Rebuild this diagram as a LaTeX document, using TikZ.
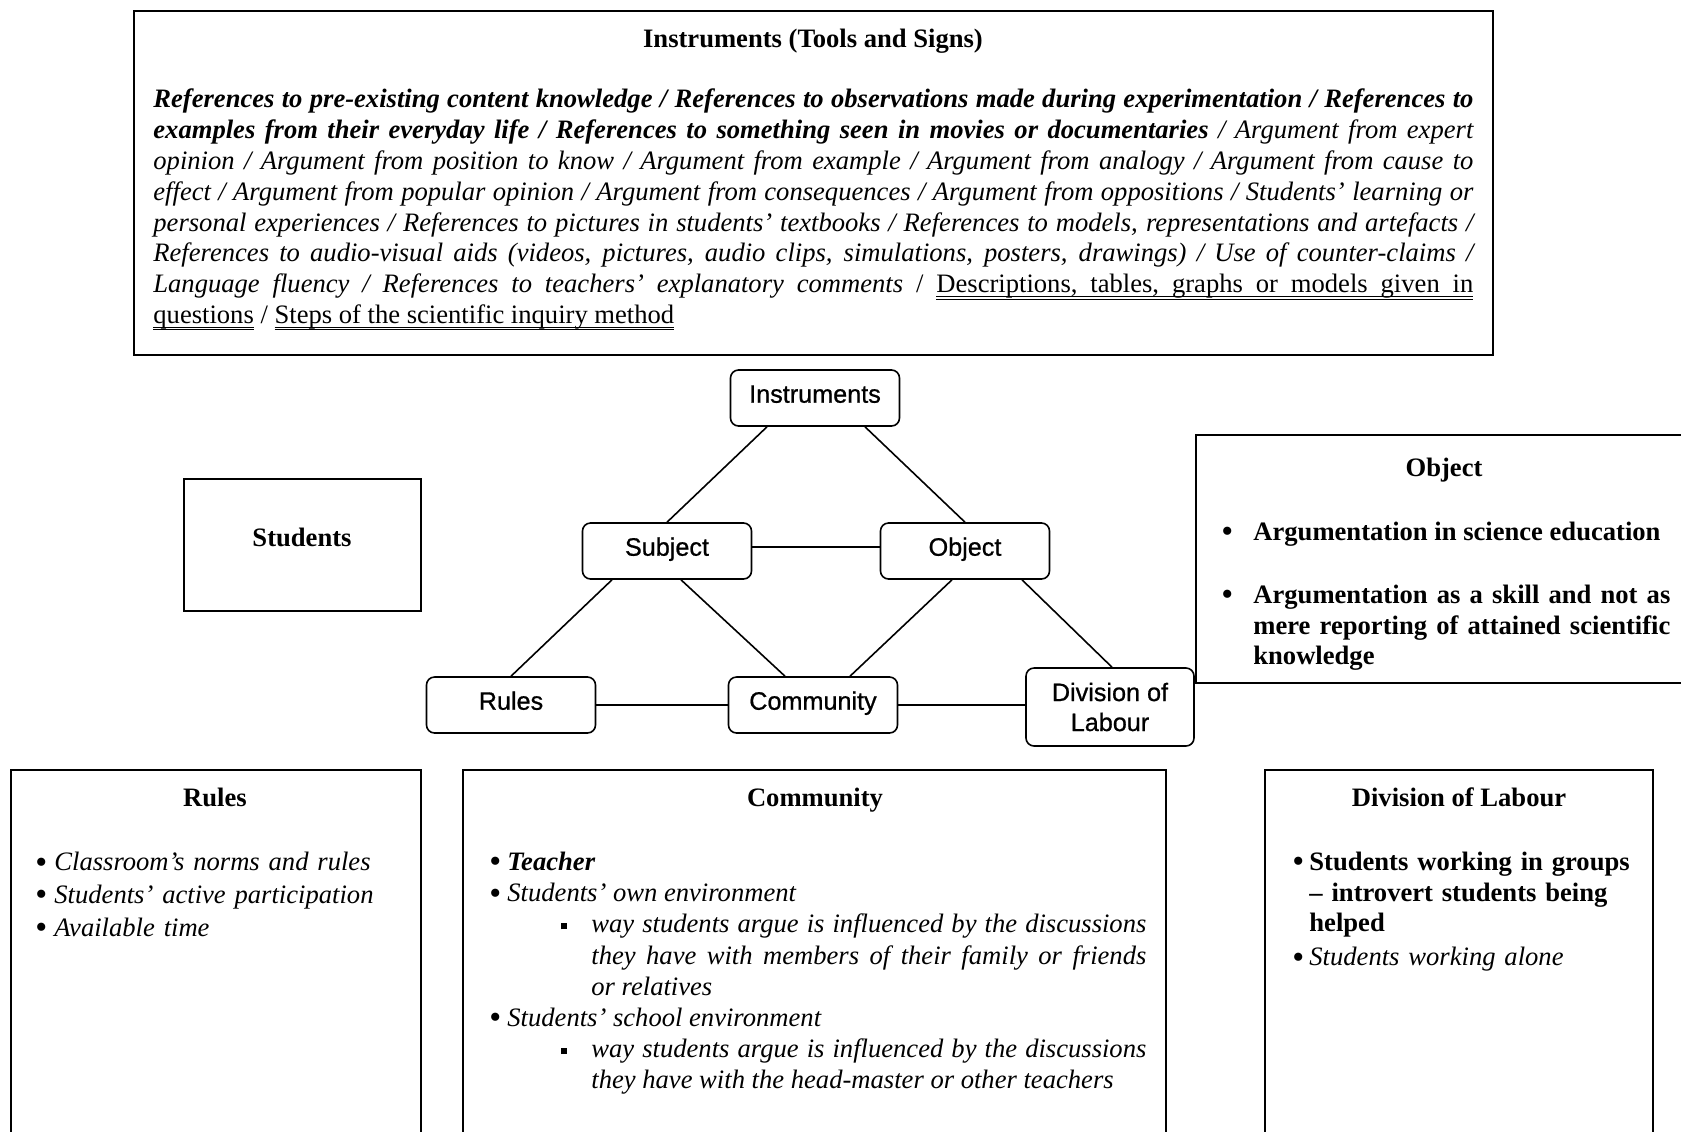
\documentclass[tikz,border=0pt]{standalone}
\usepackage{fontspec}
\setmainfont{Liberation Serif}
\newfontfamily\nodefont[FakeBold=0.8]{Liberation Sans}
\usetikzlibrary{calc}

% round bullet and small filled square for list items
\newcommand\bul{\raisebox{-1.2pt}{\fontsize{17}{17}\selectfont\upshape\mdseries •}}
\newcommand\sqbul{\rule[1.8pt]{3pt}{3pt}\hspace{12pt}}
% double-underlined word and double-underlined (stretchable) interword space
\newcommand\duword[1]{\leavevmode\setbox0\hbox{#1}%
  \rlap{\rule[-2.1pt]{\wd0}{0.5pt}}\rlap{\rule[-3.4pt]{\wd0}{0.5pt}}\box0\relax}
\newcommand\dusp{%
  \leaders\hrule height -1.6pt depth 2.1pt
    \hskip\fontdimen2\font plus\fontdimen3\font minus\fontdimen4\font
  \hskip-\fontdimen2\font plus-\fontdimen3\font minus-\fontdimen4\font
  \leaders\hrule height -2.9pt depth 3.4pt
    \hskip\fontdimen2\font plus\fontdimen3\font minus\fontdimen4\font\relax}

\begin{document}
\begin{tikzpicture}[x=0.5pt,y=-0.5pt,
  frame/.style={draw=black, line width=1pt},
  actnode/.style={draw=black, line width=0.8pt, rounded corners=4pt,
    minimum width=84.5pt, minimum height=28pt, inner sep=0pt, align=center,
    font=\nodefont\fontsize{12.6}{15}\selectfont},
  oneline/.style={actnode, text height=8pt, text depth=3.3pt},
  link/.style={draw=black, line width=0.8pt},
  body/.style={inner sep=0pt, anchor=north west,
    font=\fontsize{13.3}{15.4}\selectfont},
  head/.style={inner sep=0pt, anchor=base,
    font=\bfseries\fontsize{13.3}{15.4}\selectfont},
]
\useasboundingbox (0,0) rectangle (1681,1131);
\clip (0,0) rectangle (1681,1131);

% ---------- Instruments panel ----------
\draw[frame] (134,11) rectangle (1493,355);
\node[head] (insttitle) at (813,47) {Instruments (Tools and Signs)};
\node[body, text width=660pt, align=justify] (instbody) at (153,86) {\strut
\textbf{\textit{References to pre-existing content knowledge / References to observations made during experimentation / References to\linebreak
examples from their everyday life / References to something seen in movies or documentaries}} \textit{/ Argument from expert\linebreak
opinion / Argument from position to know / Argument from example / Argument from analogy / Argument from cause to\linebreak
effect / Argument from popular opinion / Argument from consequences / Argument from oppositions / Students’ learning or\linebreak
personal experiences / References to pictures in students’ textbooks / References to models, representations and artefacts /\linebreak
References to audio-visual aids (videos, pictures, audio clips, simulations, posters, drawings) / Use of counter-claims /\linebreak
Language fluency / References to teachers’ explanatory comments} / \duword{Descriptions,}\dusp\duword{tables,}\dusp\duword{graphs}\dusp\duword{or}\dusp\duword{models}\dusp\duword{given}\dusp\duword{in}\linebreak
\duword{questions} / \duword{Steps}\dusp\duword{of}\dusp\duword{the}\dusp\duword{scientific}\dusp\duword{inquiry}\dusp\duword{method}};

% ---------- Students panel ----------
\draw[frame] (184,479) rectangle (421,611);
\node[head] (studtitle) at (302,546) {Students};

% ---------- Object panel ----------
\draw[frame] (1196,435) rectangle (1720,683);
\node[head] (objtitle) at (1444,476) {Object};
\node[body, text width=224.5pt, align=justify] (objbody) at (1221,518.4) {%
{\leftskip=16pt
\strut\llap{\makebox[16pt][l]{\bul}}\textbf{Argumentation in science education}\par
\vspace{16.1pt}
\strut\llap{\makebox[16pt][l]{\bul}}\textbf{Argumentation as a skill and not as\linebreak
mere reporting of attained scientific\linebreak knowledge}\par}};

% ---------- activity system ----------
\node[oneline] (inst) at (815,398) {Instruments};
\node[oneline] (subj) at (667,551) {Subject};
\node[oneline] (obj)  at (965,551) {Object};
\node[oneline] (rules) at (511,705) {Rules};
\node[oneline] (comm) at (813,705) {Community};
\node[actnode, minimum width=84pt, minimum height=39pt] (div) at (1110,707) {Division of\\Labour};

\draw[link] ($(inst.south)+(-48,0)$) -- (subj.north);
\draw[link] ($(inst.south)+(50,0)$) -- (obj.north);
\draw[link] ($(subj.east)+(0,-4)$) -- ($(obj.west)+(0,-4)$);
\draw[link] ($(subj.south)+(-55,0)$) -- (rules.north);
\draw[link] ($(subj.south)+(14,0)$) -- ($(comm.north)+(-28,0)$);
\draw[link] ($(obj.south)+(-13,0)$) -- ($(comm.north)+(37,0)$);
\draw[link] ($(obj.south)+(57,0)$) -- ($(div.north)+(2,0)$);
\draw[link] (rules.east) -- (comm.west);
\draw[link] (comm.east) -- (comm.east -| div.west);

% ---------- Rules panel ----------
\draw[frame] (11,770) rectangle (421,1160);
\node[head] (rulestitle) at (215,806) {Rules};
\node[body, text width=180pt, align=left, font=\fontsize{13.3}{16.4}\selectfont] (rulesbody) at (35,847.4) {%
{\leftskip=9.5pt
\strut\llap{\makebox[9.5pt][l]{\bul}}\textit{Classroom’s norms and rules}\par
\strut\llap{\makebox[9.5pt][l]{\bul}}\textit{Students’ active participation}\par
\strut\llap{\makebox[9.5pt][l]{\bul}}\textit{Available time}\par}};

% ---------- Community panel ----------
\draw[frame] (463,770) rectangle (1166,1160);
\node[head] (commtitle) at (815,806) {Community};
\node[body, text width=328.5pt, align=justify, font=\fontsize{13.3}{15.6}\selectfont] (commbody) at (489,848.2) {%
{\leftskip=9pt
\strut\llap{\makebox[9pt][l]{\bul}}\textbf{\textit{Teacher}}\par
\strut\llap{\makebox[9pt][l]{\bul}}\textit{Students’ own environment}\par}
{\leftskip=51pt
\strut\llap{\sqbul}\textit{way students argue is influenced by the discussions\linebreak
they have with members of their family or friends\linebreak or relatives}\par}
{\leftskip=9pt
\strut\llap{\makebox[9pt][l]{\bul}}\textit{Students’ school environment}\par}
{\leftskip=51pt
\strut\llap{\sqbul}\textit{way students argue is influenced by the discussions\linebreak
they have with the head-master or other teachers}\par}};

% ---------- Division of Labour panel ----------
\draw[frame] (1265,770) rectangle (1653,1160);
\node[head] (divtitle) at (1459,806) {Division of Labour};
\node[body, text width=170pt, align=left] (divbody) at (1292,848.4) {%
{\leftskip=8.5pt
\strut\llap{\makebox[8.5pt][l]{\bul}}\textbf{Students working in groups\\
– introvert students being\\ helped}\par
\vspace{1.5pt}
\strut\llap{\makebox[8.5pt][l]{\bul}}\textit{Students working alone}\par}};
\end{tikzpicture}
\end{document}
